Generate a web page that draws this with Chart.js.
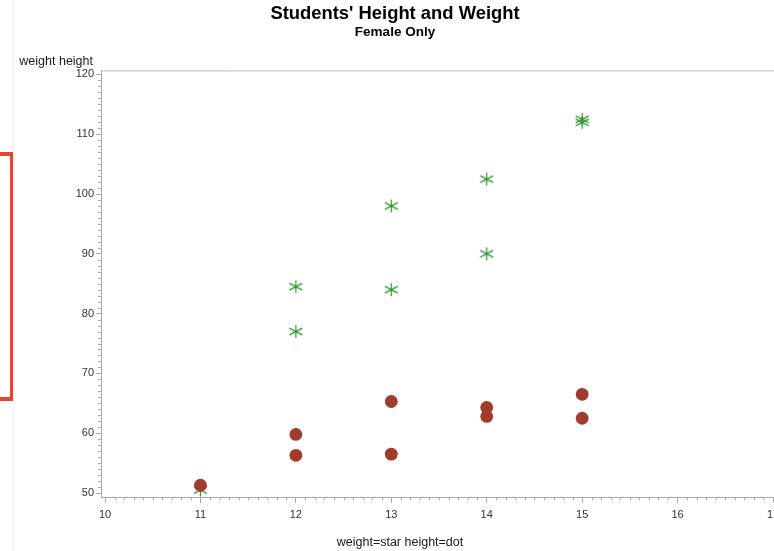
<!DOCTYPE html>
<html>
<head>
<meta charset="utf-8">
<title>Students' Height and Weight</title>
<script src="https://cdn.jsdelivr.net/npm/chart.js@4/dist/chart.umd.min.js"></script>
<style>
  html, body { margin: 0; padding: 0; background: #ffffff; overflow: hidden; }
  #wrap { position: relative; width: 774px; height: 551px; overflow: hidden; }
  #wrap canvas { position: absolute; left: 0; top: 0; }
</style>
</head>
<body>
<div id="wrap"><canvas id="chart" width="800" height="551"></canvas></div>
<script>
// Female students: age, height (in) and weight (lb)
const ages    = [13, 13, 14, 12, 15, 11, 14, 12, 15];
const heights = [56.5, 65.3, 62.8, 59.8, 62.5, 51.3, 64.3, 56.3, 66.5];
const weights = [84, 98, 102.5, 84.5, 112.5, 50.5, 90, 77, 112];

// Axis tick labels
const xTickValues = [10, 11, 12, 13, 14, 15, 16, 17];
const yTickValues = [50, 60, 70, 80, 90, 100, 110, 120];
const xMinorStep = 0.1;
const yMinorStep = 1;

const FONT = "'Liberation Sans', Arial, Helvetica, sans-serif";
Chart.defaults.font.family = FONT;

const STAR_COLOR = '#2a9531';
const DOT_COLOR = '#a13b2c';
const AXIS_COLOR = '#a9a9a9';

// Six-armed asterisk used for the weight markers
function makeStar(color) {
  const c = document.createElement('canvas');
  c.width = 15; c.height = 15;
  const g = c.getContext('2d');
  g.strokeStyle = color;
  g.lineWidth = 1.2;
  const cx = 7.5, cy = 7.5;
  g.beginPath();
  g.moveTo(cx, cy - 6.5); g.lineTo(cx, cy + 6.5);
  g.moveTo(cx - 6.5, cy - 3.4); g.lineTo(cx + 6.5, cy + 3.4);
  g.moveTo(cx - 6.5, cy + 3.4); g.lineTo(cx + 6.5, cy - 3.4);
  g.stroke();
  return c;
}
const starImg = makeStar(STAR_COLOR);

// Axis frame, minor ticks, side labels and the margin bracket
const decorations = {
  id: 'decorations',
  afterDraw(chart) {
    const { ctx, chartArea: a, scales: { x, y } } = chart;
    ctx.save();

    // top frame line
    ctx.strokeStyle = '#bdbdbd';
    ctx.lineWidth = 1;
    ctx.beginPath();
    ctx.moveTo(a.left, a.top + 0.5);
    ctx.lineTo(a.right, a.top + 0.5);
    ctx.stroke();

    // minor ticks
    ctx.strokeStyle = AXIS_COLOR;
    ctx.beginPath();
    const xFirst = xTickValues[0], xLast = xTickValues[xTickValues.length - 1];
    const nx = Math.round((xLast - xFirst) / xMinorStep);
    for (let i = 0; i <= nx; i++) {
      if (i % 10 === 0) continue;
      const px = Math.round(x.getPixelForValue(xFirst + i * xMinorStep)) + 0.5;
      if (px > a.right) break;
      ctx.moveTo(px, a.bottom);
      ctx.lineTo(px, a.bottom + 3);
    }
    const yFirst = yTickValues[0], yLast = yTickValues[yTickValues.length - 1];
    const ny = Math.round((yLast - yFirst) / yMinorStep);
    for (let i = 0; i <= ny; i++) {
      if (i % 10 === 0) continue;
      const py = Math.round(y.getPixelForValue(yFirst + i * yMinorStep)) + 0.5;
      ctx.moveTo(a.left, py);
      ctx.lineTo(a.left - 3, py);
    }
    ctx.stroke();

    // axis captions
    ctx.fillStyle = '#1a1a1a';
    ctx.font = '12.5px ' + FONT;
    ctx.textBaseline = 'middle';
    ctx.textAlign = 'right';
    ctx.fillText('weight height', 93, 61.5);
    ctx.textAlign = 'center';
    ctx.fillText('weight=star height=dot', chart.width / 2, 543);

    // faint margin rule and bracket
    ctx.fillStyle = '#f2f2f2';
    ctx.fillRect(13, 0, 1, chart.height);
    ctx.fillStyle = '#e8452b';
    ctx.fillRect(0, 152, 13, 4);
    ctx.fillRect(10, 152, 3, 249);
    ctx.fillRect(0, 397, 13, 4);

    ctx.restore();
  }
};

const heightPoints = ages.map((a, i) => ({ x: a, y: heights[i] }));
const weightPoints = ages.map((a, i) => ({ x: a, y: weights[i] }));

new Chart(document.getElementById('chart'), {
  type: 'scatter',
  data: {
    datasets: [
      {
        label: 'height',
        data: heightPoints,
        pointStyle: 'circle',
        pointRadius: 6.4,
        pointHoverRadius: 6.4,
        backgroundColor: DOT_COLOR,
        borderColor: DOT_COLOR,
        borderWidth: 0
      },
      {
        label: 'weight',
        data: weightPoints,
        pointStyle: starImg,
        pointRadius: 7,
        pointHoverRadius: 7,
        backgroundColor: STAR_COLOR,
        borderColor: STAR_COLOR
      }
    ]
  },
  options: {
    responsive: false,
    animation: false,
    devicePixelRatio: 1,
    layout: { padding: { left: 0, right: 10, top: 0, bottom: 0 } },
    plugins: {
      legend: { display: false },
      tooltip: { enabled: false },
      title: {
        display: true,
        text: "Students' Height and Weight",
        color: '#000',
        font: { size: 18.4, weight: 'bold', lineHeight: 1.2 },
        padding: { top: 2.5, bottom: 0 }
      },
      subtitle: {
        display: true,
        text: 'Female Only',
        color: '#000',
        font: { size: 13.5, weight: 'bold', lineHeight: 1.1 },
        padding: { top: 0.5, bottom: 30.5 }
      }
    },
    scales: {
      x: {
        type: 'linear',
        position: 'bottom',
        min: 9.958,
        max: 17.178,
        afterBuildTicks(s) { s.ticks = xTickValues.map(v => ({ value: v })); },
        afterFit(s) { s.height = 54; s.paddingLeft = 0; s.paddingRight = 0; },
        ticks: {
          color: '#333',
          font: { size: 11 },
          padding: 5,
          maxRotation: 0,
          autoSkip: false
        },
        grid: { drawOnChartArea: false, tickLength: 6, tickColor: AXIS_COLOR, tickWidth: 1 },
        border: { display: true, color: AXIS_COLOR, width: 1 }
      },
      y: {
        type: 'linear',
        position: 'left',
        min: 49.332,
        max: 120.668,
        afterBuildTicks(s) { s.ticks = yTickValues.map(v => ({ value: v })); },
        afterFit(s) { s.width = 101; s.paddingTop = 0; s.paddingBottom = 0; },
        ticks: {
          color: '#333',
          font: { size: 11 },
          padding: 2,
          autoSkip: false
        },
        grid: { drawOnChartArea: false, tickLength: 5, tickColor: AXIS_COLOR, tickWidth: 1 },
        border: { display: true, color: AXIS_COLOR, width: 1 }
      }
    }
  },
  plugins: [decorations]
});
</script>
</body>
</html>
